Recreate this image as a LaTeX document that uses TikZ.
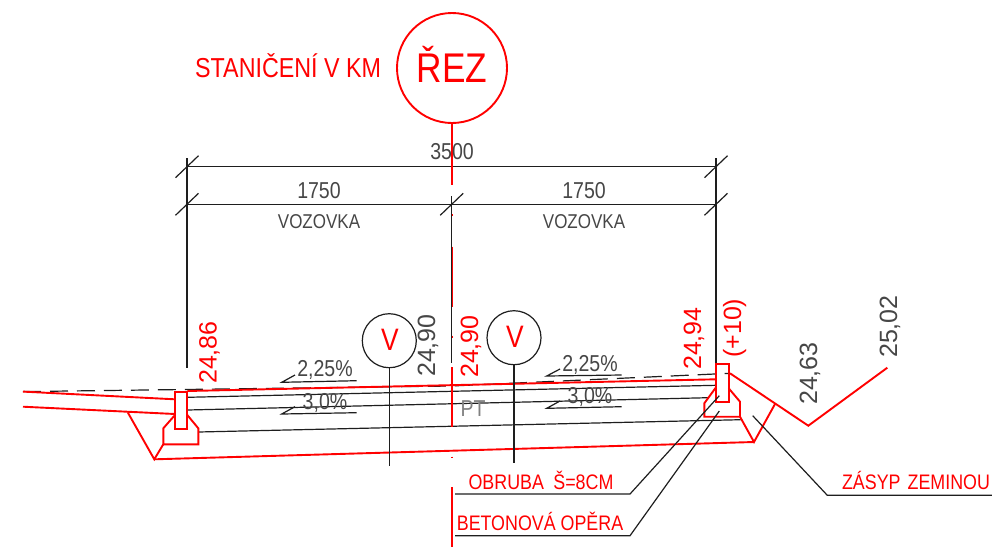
\documentclass[tikz,border=0pt]{standalone}
\usepackage{fontspec}
\setmainfont{Liberation Sans}
\newfontfamily\cad[FakeStretch=0.85]{Liberation Sans}
\definecolor{cadred}{RGB}{255,0,0}
\definecolor{cadblk}{RGB}{30,30,30}
\definecolor{cadtxt}{RGB}{70,70,70}
\tikzset{
  x=1pt,y=-1pt,
  redln/.style={draw=cadred,line width=1.9pt,line join=miter},
  thinred/.style={draw=cadred,line width=1.6pt},
  blk/.style={draw=cadblk,line width=1.2pt},
  ring/.style={draw=cadblk,line width=1.2pt,circle,inner sep=0pt,fill=white},
  txt/.style={inner sep=0pt,text=cadtxt,font=\cad\fontsize{23}{23}\selectfont},
  lev/.style={inner sep=0pt,font=\fontsize{25}{25}\selectfont},
  lab/.style={inner sep=0pt,text=cadred,font=\cad\fontsize{21}{21}\selectfont},
}
\begin{document}
\begin{tikzpicture}
\useasboundingbox (0,0) rectangle (992,547);
% coordinates
\coordinate (dl) at (187,158); \coordinate (dlb) at (187,368);
\coordinate (dr) at (716,158); \coordinate (drb) at (716,364);
\coordinate (a1) at (187,166.7); \coordinate (a2) at (716,166.7);
\coordinate (b1) at (187,204.3); \coordinate (bm) at (451.7,204.3); \coordinate (b2) at (716,204.3);
% thin black layers
\draw[blk] (187.3,397.3) -- (716,385.3);
\draw[blk] (187.3,410) -- (708,397.7);
\draw[blk] (198.3,432) -- (740.7,419.7);
% dimensions
\draw[blk] (dl) -- (dlb);
\draw[blk] (dr) -- (drb);
\draw[blk] (a1) -- (a2);
\draw[blk] (b1) -- (b2);
\foreach \p in {a1,b1,bm,a2,b2}{
  \draw[blk] ([shift={(-11.5,11)}]\p) -- ([shift={(11.5,-11)}]\p);
}
% dashed reference
\coordinate (da) at (23,391.6); \coordinate (db) at (451,386); \coordinate (dc) at (730,373.3);
\draw[blk,dash pattern=on 18pt off 9pt] (da) -- (db) -- (dc);
% centre line
\draw[cadred,line width=2pt] (451.7,214) -- (451.7,216) (451.7,246.7) -- (451.7,306.7) (451.7,335.5)--(451.7,337.5);
\draw[blk] (451.7,196) -- (451.7,363);
\draw[thinred] (451.7,120) -- (451.7,185);
\draw[thinred] (451.7,367) -- (451.7,427);
\draw[thinred] (451.7,456.5) -- (451.7,458);
\draw[thinred] (451.7,487) -- (451.7,547);
% road structure
\draw[redln] (23,391.6) -- (175,399.3);
\draw[redln] (23,406.7) -- (175,414);
\draw[redln] (187.3,391) -- (716,379.3);
\draw[redln] (175,391.7) rectangle (187.3,429.3);
\draw[redln] (175,415) -- (163.3,428.3) -- (163.3,444.3) -- (198.3,444.3) -- (198.3,428.3) -- (187.3,415);
\draw[redln] (127.7,412.3) -- (154.3,459.3) -- (163.3,444.3);
\draw[redln] (154.3,459.3) -- (754,442);
\draw[redln] (716,364.3) rectangle (728.7,402);
\draw[redln] (716,387.3) -- (704.3,403.3) -- (704.3,416.7) -- (740,416.7) -- (740,401.7) -- (728.7,388.3);
\draw[redln] (740,416.7) -- (754,442) -- (775,404);
\draw[redln] (730,373.3) -- (808.3,425.7) -- (887.3,367.7);
% leaders
\draw[blk] (719.3,395.7) -- (630,494) -- (455,494);
\draw[blk] (719.3,411) -- (630,535.7) -- (455,535.7);
\draw[blk] (752.7,415.7) -- (827.3,495.3) -- (992,495.3);
% slope marks
\draw[blk] (295,375) -- (281.7,382.3) -- (356.7,380.7);
\draw[blk] (560,369) -- (546.7,376) -- (621.7,375);
\draw[blk] (295,406.7) -- (281.7,414) -- (356.7,412.7);
\draw[blk] (560,401) -- (546.7,408.3) -- (621.7,406.7);
% V markers
\node[ring,minimum size=54pt] (v1) at (389.3,340.7) {};
\node[ring,minimum size=54pt] (v2) at (514,337.7) {};
\coordinate (v1e) at (389.3,465.7); \coordinate (v2e) at (514,462.7);
\draw[blk] (v1) -- (v1e);
\draw[blk] (v2) -- (v2e);
\node[lev,text=cadred,font=\cad\fontsize{31}{31}\selectfont] (vt1) at (390,340) {V};
\node[lev,text=cadred,font=\cad\fontsize{31}{31}\selectfont] (vt2) at (515,337) {V};
% title
\node[circle,draw=cadred,line width=1.9pt,minimum size=110pt,inner sep=0pt,fill=white] (rez) at (452,68) {};
\node[inner sep=0pt,text=cadred,font=\cad\fontsize{41.5}{41.5}\selectfont,anchor=base] (rezt) at (452,82.5) {ŘEZ};
\node[lab,font=\cad\fontsize{27.4}{27.4}\selectfont,anchor=base west] (st) at (195,77.5) {STANIČENÍ V KM};
% dimension texts
\node[txt,anchor=base] (t1) at (452,159) {3500};
\node[txt,anchor=base] (t2) at (319,198) {1750};
\node[txt,anchor=base] (t3) at (584,198) {1750};
\node[txt,font=\cad\fontsize{20}{20}\selectfont,anchor=base] (t4) at (319,228.5) {VOZOVKA};
\node[txt,font=\cad\fontsize{20}{20}\selectfont,anchor=base] (t5) at (584,228.5) {VOZOVKA};
% slopes
\node[txt,anchor=base] (s1) at (325,376) {2,25\%};
\node[txt,anchor=base] (s2) at (325,409) {3,0\%};
\node[txt,anchor=base] (s3) at (590,371) {2,25\%};
\node[txt,anchor=base] (s4) at (590,403) {3,0\%};
\node[txt,text=gray,anchor=base] (pt) at (473,416) {PT};
% levels
\node[lev,rotate=90,text=cadred,anchor=base west] (l1) at (216.5,384) {24,86};
\node[lev,rotate=90,text=cadtxt,anchor=base west] (l2) at (435,377) {24,90};
\node[lev,rotate=90,text=cadred,anchor=base west] (l3) at (478,378) {24,90};
\node[lev,rotate=90,text=cadred,anchor=base west] (l4) at (701,370) {24,94};
\node[lev,rotate=90,text=cadred,anchor=base west] (l5) at (741,358) {(+10)};
\node[lev,rotate=90,text=cadtxt,anchor=base west] (l6) at (817,405) {24,63};
\node[lev,rotate=90,text=cadtxt,anchor=base west] (l7) at (897,358) {25,02};
% labels
\node[lab,anchor=base] (o) at (541,489) {OBRUBA\hspace{0.45em}Š=8CM};
\node[lab,anchor=base] (b) at (540,530.5) {BETONOVÁ OPĚRA};
\node[lab,anchor=base] (z) at (916,489.5) {ZÁSYP\hspace{0.1em} ZEMINOU};
\end{tikzpicture}
\end{document}
